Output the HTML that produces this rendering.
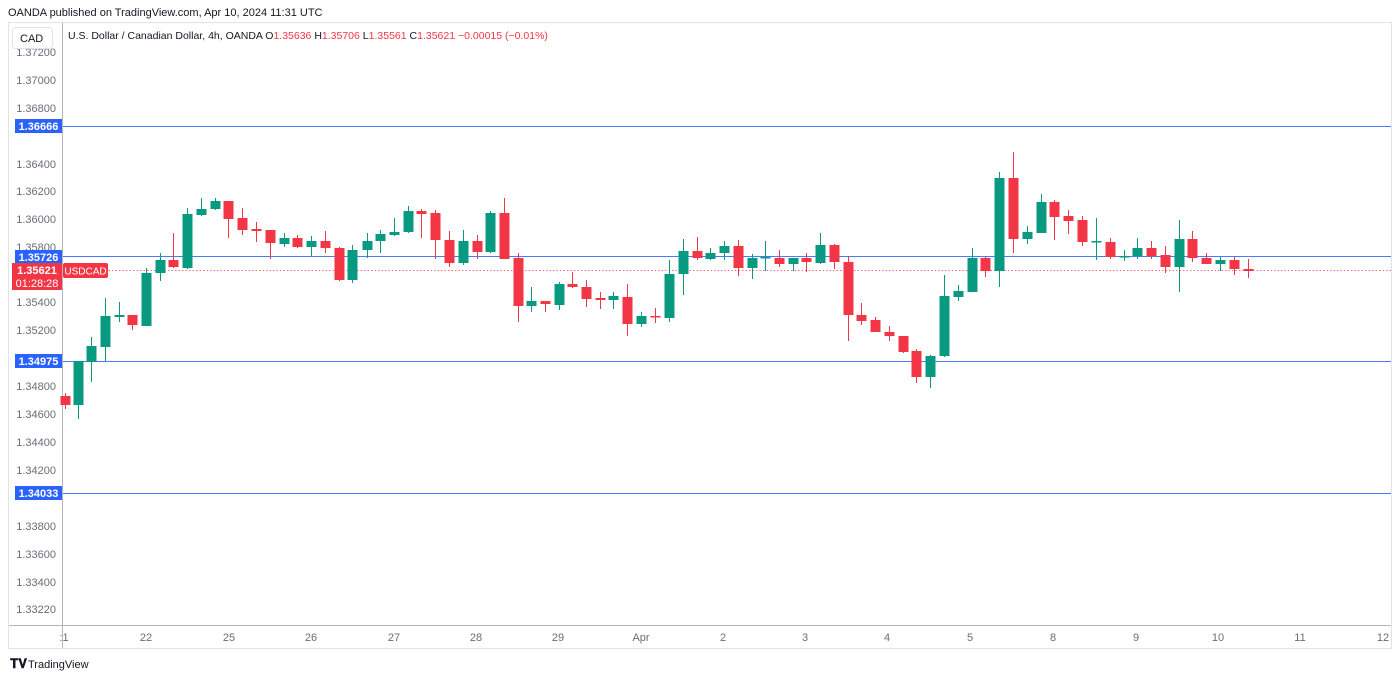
<!DOCTYPE html>
<html><head><meta charset="utf-8"><style>
html,body{margin:0;padding:0;background:#fff;width:1400px;height:679px;overflow:hidden;font-family:"Liberation Sans",sans-serif}
svg{position:absolute;left:0;top:0}
</style></head><body>
<svg id="s" width="1400" height="679" xmlns="http://www.w3.org/2000/svg" font-family="Liberation Sans, sans-serif">
<text x="8" y="16" font-size="11" fill="#131722">OANDA published on TradingView.com, Apr 10, 2024 11:31 UTC</text>
<rect x="8.5" y="22.5" width="1383" height="626" fill="#fff" stroke="#e0e3eb"/>
<line x1="62.5" y1="23" x2="62.5" y2="648" stroke="#b2b5be"/>
<line x1="9" y1="625.5" x2="1391" y2="625.5" stroke="#b2b5be"/>
<g id="ylab" font-size="11" fill="#6a6d78" text-anchor="end"></g>
<g font-size="11" fill="#6a6d78" text-anchor="middle">
<text x="64" y="641">:1</text><text x="146" y="641">22</text><text x="229" y="641">25</text><text x="311" y="641">26</text><text x="394" y="641">27</text><text x="476" y="641">28</text><text x="558" y="641">29</text><text x="641" y="641">Apr</text><text x="723" y="641">2</text><text x="805" y="641">3</text><text x="887" y="641">4</text><text x="970" y="641">5</text><text x="1053" y="641">8</text><text x="1136" y="641">9</text><text x="1218" y="641">10</text><text x="1300" y="641">11</text><text x="1383" y="641">12</text>
</g>
<g stroke="#2962ff" stroke-width="1" opacity="0.85">
<line x1="63" y1="126.5" x2="1391" y2="126.5"/><line x1="63" y1="256.5" x2="1391" y2="256.5"/><line x1="63" y1="361.5" x2="1391" y2="361.5"/><line x1="63" y1="493.5" x2="1391" y2="493.5"/>
</g>
<line x1="63" y1="270.5" x2="1391" y2="270.5" stroke="#f23645" stroke-dasharray="1.5,2" opacity="0.7"/>
<g id="cd"></g>
<rect x="12.5" y="27.5" width="40" height="21" rx="3" fill="#fff" stroke="#e0e3eb"/>
<text x="20" y="42" font-size="11" fill="#131722">CAD</text>
<text x="68" y="39" font-size="10.5" fill="#131722">U.S. Dollar / Canadian Dollar, 4h, OANDA <tspan>O</tspan><tspan fill="#f23645">1.35636</tspan> H<tspan fill="#f23645">1.35706</tspan> L<tspan fill="#f23645">1.35561</tspan> C<tspan fill="#f23645">1.35621</tspan> <tspan fill="#f23645">−0.00015 (−0.01%)</tspan></text>
<g font-size="11" font-weight="bold" fill="#fff" text-anchor="middle">
<rect x="15" y="119" width="47" height="14" fill="#2962ff"/><text x="38.5" y="130">1.36666</text>
<rect x="15" y="250" width="47" height="14" fill="#2962ff"/><text x="38.5" y="261">1.35726</text>
<rect x="12" y="263" width="50" height="27" fill="#f23645"/><text x="37" y="274">1.35621</text><text x="37" y="287" font-weight="normal">01:28:28</text>
<rect x="63" y="263" width="45" height="15" rx="2" fill="#f23645"/><text x="85.5" y="274.5" font-weight="normal" font-size="10">USDCAD</text>
<rect x="15" y="354" width="47" height="14" fill="#2962ff"/><text x="38.5" y="365">1.34975</text>
<rect x="15" y="486" width="47" height="14" fill="#2962ff"/><text x="38.5" y="497">1.34033</text>
</g>
<text x="10" y="668" font-size="13" font-weight="bold" fill="#131722">𝐓𝐕</text>
<text x="28" y="668" font-size="11" fill="#131722">TradingView</text>
</svg>
<script>
var ns="http://www.w3.org/2000/svg";
function el(p,t,a){var e=document.createElementNS(ns,t);for(var k in a)e.setAttribute(k,a[k]);p.appendChild(e);return e;}
var yl=document.getElementById('ylab');
[["1.37200",56],["1.37000",84],["1.36800",112],["1.36400",168],["1.36200",195],["1.36000",223],["1.35800",251],["1.35400",306],["1.35200",334],["1.34800",390],["1.34600",418],["1.34400",446],["1.34200",474],["1.33800",530],["1.33600",558],["1.33400",586],["1.33220",613]].forEach(function(l){var t=el(yl,'text',{x:56,y:l[1]});t.textContent=l[0];});
var c=[[65,396,405,393,409,'r'],[78,361,405,361,419,'g'],[91,346,362,337,382,'g'],[105,316,347,298,361,'g'],[119,315,317,302,322,'g'],[132,315,325,315,330,'r'],[146,273,326,268,326,'g'],[160,260,273,253,281,'g'],[173,260,267,233,268,'r'],[187,214,268,208,269,'g'],[201,209,215,198,216,'g'],[215,201,209,198,210,'g'],[228,201,219,201,238,'r'],[242,218,230,208,235,'r'],[256,229,231,222,242,'r'],[270,230,243,230,259,'r'],[284,238,244,233,247,'g'],[297,238,247,235,248,'r'],[311,241,247,236,256,'g'],[325,241,248,231,253,'r'],[339,248,280,247,281,'r'],[352,250,280,245,283,'g'],[367,241,250,233,258,'g'],[380,234,241,230,253,'g'],[394,232,235,218,236,'g'],[408,211,232,206,233,'g'],[421,211,214,209,238,'r'],[435,213,240,210,259,'r'],[449,240,263,231,267,'r'],[463,241,263,230,265,'g'],[477,241,252,235,259,'r'],[490,213,252,211,253,'g'],[504,213,259,198,259,'r'],[518,258,306,253,322,'r'],[531,301,306,287,312,'g'],[545,301,304,301,312,'r'],[559,284,305,282,310,'g'],[572,284,287,272,288,'r'],[586,287,299,280,307,'r'],[600,298,300,292,309,'r'],[613,296,300,292,309,'g'],[627,297,324,284,336,'r'],[641,316,324,312,327,'g'],[655,316,317,308,323,'r'],[669,274,318,260,322,'g'],[683,251,274,239,295,'g'],[697,251,258,237,260,'r'],[710,253,259,248,260,'g'],[724,246,253,241,260,'g'],[738,246,268,240,276,'r'],[752,258,268,254,279,'g'],[765,257,258,241,271,'g'],[779,258,264,250,267,'r'],[793,258,264,258,271,'g'],[806,258,262,253,272,'r'],[820,245,263,233,264,'g'],[834,245,262,244,269,'r'],[848,262,315,256,341,'r'],[861,315,321,303,325,'r'],[875,320,332,317,332,'r'],[889,332,336,326,341,'r'],[903,336,352,336,353,'r'],[916,351,377,349,383,'r'],[930,356,377,355,388,'g'],[944,296,356,275,357,'g'],[958,291,297,285,301,'g'],[972,258,292,248,292,'g'],[985,258,271,257,277,'r'],[999,178,271,172,287,'g'],[1013,178,239,152,253,'r'],[1027,232,239,226,244,'g'],[1041,202,233,194,233,'g'],[1054,202,217,200,240,'r'],[1068,216,221,210,234,'r'],[1082,220,242,216,246,'r'],[1096,241,242,218,260,'g'],[1110,242,257,238,259,'r'],[1124,256,257,250,261,'g'],[1137,248,256,238,259,'g'],[1151,248,256,241,259,'r'],[1165,255,267,246,273,'r'],[1179,239,267,220,292,'g'],[1192,239,258,231,262,'r'],[1206,258,264,253,264,'r'],[1220,260,264,257,271,'g'],[1234,260,269,257,275,'r'],[1248,269,271,259,278,'r']];
var g=document.getElementById('cd');
c.forEach(function(d){var col=d[5]=='g'?'#089981':'#f23645';
el(g,'line',{x1:d[0]+0.5,x2:d[0]+0.5,y1:d[3],y2:d[4],stroke:col,'stroke-width':1});
var h=Math.max(d[2]-d[1],1.5);
el(g,'rect',{x:d[0]-4.5,y:d[1],width:10,height:h,fill:col});});
</script>
</body></html>
